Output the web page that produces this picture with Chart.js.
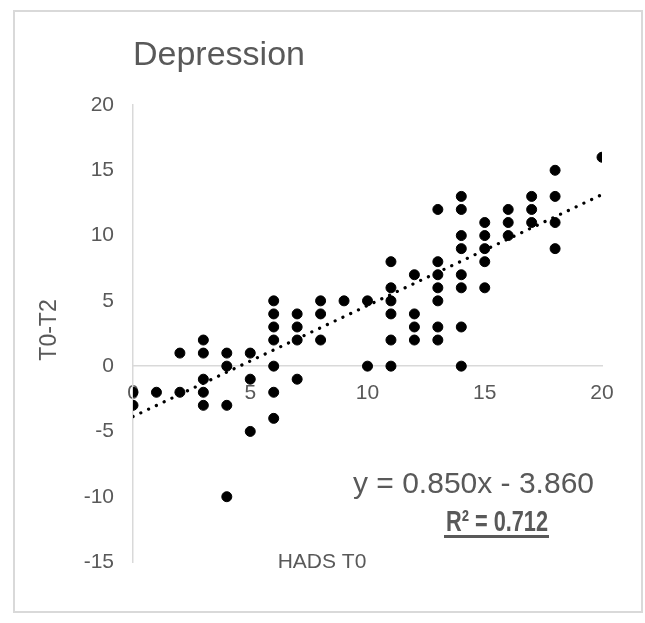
<!DOCTYPE html>
<html>
<head>
<meta charset="utf-8">
<script src="https://cdn.jsdelivr.net/npm/chart.js@4.4.1/dist/chart.umd.min.js"></script>
<style>
  html, body { margin: 0; padding: 0; background: #fff; }
  #wrap { position: relative; width: 645px; height: 623px; }
  #frame { position: absolute; left: 13px; top: 10px; width: 630px; height: 603px; border: 2px solid #d9d9d9; box-sizing: border-box; }
  canvas { position: absolute; left: 0; top: 0; }
</style>
</head>
<body>
<div id="wrap">
  <div id="frame"></div>
  <canvas id="chart" width="645" height="623"></canvas>
</div>
<script>
// HADS T0 score (x) against change T0-T2 (y), one entry per patient
const hadsT0 = [
  0, 0,
  1,
  2, 2,
  3, 3, 3, 3, 3,
  4, 4, 4, 4,
  5, 5, 5,
  6, 6, 6, 6, 6, 6, 6,
  7, 7, 7, 7,
  8, 8, 8,
  9,
  10, 10,
  11, 11, 11, 11, 11, 11,
  12, 12, 12, 12,
  13, 13, 13, 13, 13, 13, 13,
  14, 14, 14, 14, 14, 14, 14, 14,
  15, 15, 15, 15, 15,
  16, 16, 16,
  17, 17, 17,
  18, 18, 18, 18,
  20
];
const changeT0T2 = [
  -2, -3,
  -2,
  1, -2,
  2, 1, -1, -2, -3,
  1, 0, -3, -10,
  1, -1, -5,
  5, 4, 3, 2, 0, -2, -4,
  4, 3, 2, -1,
  5, 4, 2,
  5,
  5, 0,
  8, 6, 5, 4, 2, 0,
  7, 4, 3, 2,
  12, 8, 7, 6, 5, 3, 2,
  13, 12, 10, 9, 7, 6, 3, 0,
  11, 10, 9, 8, 6,
  12, 11, 10,
  13, 12, 11,
  15, 13, 11, 9,
  16
];

const xTicks = [0, 5, 10, 15, 20];
const yTicks = [-15, -10, -5, 0, 5, 10, 15, 20];

// linear trendline as reported by the spreadsheet
const slope = 0.850;
const intercept = -3.860;
const trendX = [0, 20];

const points = hadsT0.map((x, i) => ({ x: x, y: changeT0T2[i] }));
const trend = trendX.map(x => ({ x: x, y: slope * x + intercept }));

const grey = '#595959';
const axisGrey = '#d9d9d9';
const fam = '"Liberation Sans", Arial, sans-serif';

const textPlugin = {
  id: 'texts',
  afterDraw(chart) {
    const ctx = chart.ctx;
    ctx.save();
    ctx.fillStyle = grey;
    ctx.textBaseline = 'alphabetic';

    // title
    ctx.font = '34px ' + fam;
    ctx.textAlign = 'left';
    ctx.fillText('Depression', 133, 65);

    // x axis title
    ctx.font = '21px ' + fam;
    ctx.textAlign = 'center';
    ctx.fillText('HADS T0', 322, 568);

    // y axis title
    ctx.save();
    ctx.font = '23px ' + fam;
    ctx.translate(56, 330);
    ctx.rotate(-Math.PI / 2);
    ctx.fillText('T0-T2', 0, 0);
    ctx.restore();

    // trendline label
    ctx.textAlign = 'left';
    ctx.font = '30px ' + fam;
    ctx.fillText('y = 0.850x - 3.860', 353, 493, 244);
    ctx.font = 'bold 30px ' + fam;
    ctx.fillText('R² = 0.712', 446, 531, 102);
    ctx.fillRect(444, 535, 105, 3);
    ctx.restore();
  }
};

new Chart(document.getElementById('chart'), {
  type: 'scatter',
  data: {
    datasets: [
      {
        label: 'Depression',
        data: points,
        backgroundColor: '#000',
        borderColor: '#000',
        pointRadius: 5,
        pointHoverRadius: 5,
        order: 1
      },
      {
        type: 'line',
        label: 'Trend',
        data: trend,
        borderColor: '#000',
        borderWidth: 3.2,
        borderDash: [0.1, 8.5],
        borderCapStyle: 'round',
        pointRadius: 0,
        fill: false,
        order: 0
      }
    ]
  },
  plugins: [textPlugin],
  options: {
    responsive: false,
    animation: false,
    layout: { padding: { left: 73, top: 105, right: 43, bottom: 61 } },
    plugins: {
      legend: { display: false },
      tooltip: { enabled: false },
      title: { display: false }
    },
    scales: {
      x: {
        type: 'linear',
        position: { y: 0 },
        min: 0,
        max: 20,
        afterBuildTicks(axis) { axis.ticks = xTicks.map(v => ({ value: v })); },
        afterFit(axis) { axis.height = 0; },
        grid: { display: false, drawTicks: false },
        border: { display: true, color: axisGrey, width: 1.5 },
        ticks: { color: grey, font: { family: fam, size: 21 }, padding: 14, maxRotation: 0 }
      },
      y: {
        type: 'linear',
        position: 'left',
        min: -15,
        max: 20,
        afterBuildTicks(axis) { axis.ticks = yTicks.map(v => ({ value: v })); },
        afterFit(axis) { axis.width = 60; },
        grid: { display: false, drawTicks: false },
        border: { display: true, color: axisGrey, width: 1.5 },
        ticks: { color: grey, font: { family: fam, size: 21 }, padding: 19 }
      }
    }
  }
});
</script>
</body>
</html>
